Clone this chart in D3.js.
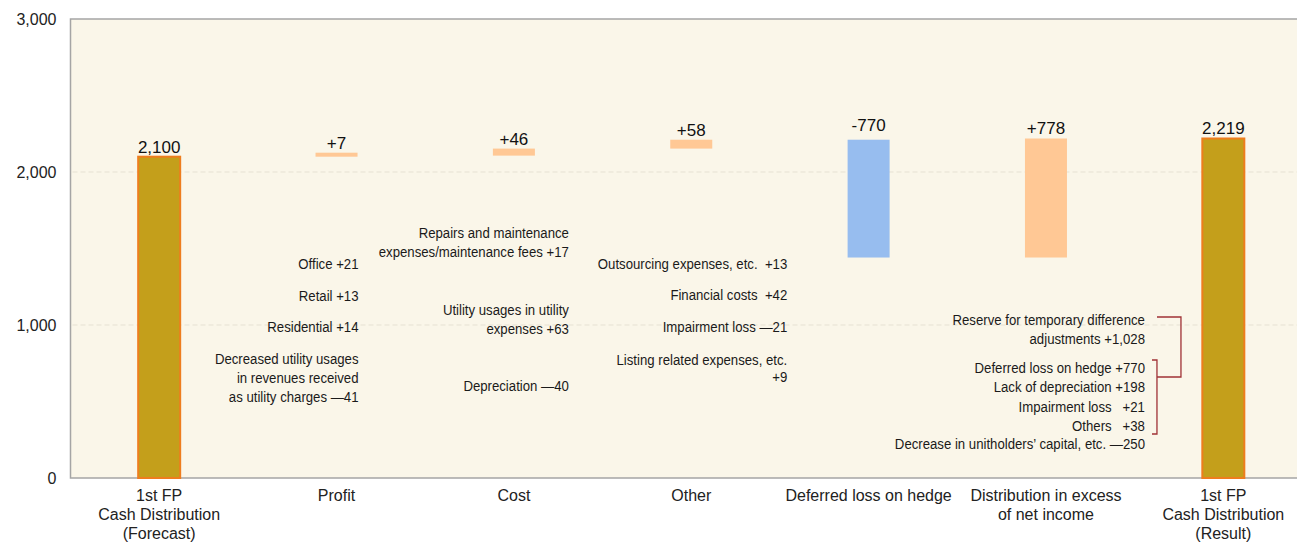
<!DOCTYPE html>
<html>
<head>
<meta charset="utf-8">
<script src="https://cdn.jsdelivr.net/npm/d3@7"></script>
<style>
  body { margin: 0; background: #fff; }
  svg { display: block; }
  text { font-family: "Liberation Sans", Arial, sans-serif; }
  .note { white-space: pre; }
</style>
</head>
<body>
<svg id="chart" width="1297" height="545"></svg>
<script>
// categories and waterfall steps
var categories = ["forecast", "profit", "cost", "other", "hedge", "excess", "result"];
var catLabels = [
  ["1st FP", "Cash Distribution", "(Forecast)"],
  ["Profit"],
  ["Cost"],
  ["Other"],
  ["Deferred loss on hedge"],
  ["Distribution in excess", "of net income"],
  ["1st FP", "Cash Distribution", "(Result)"]
];
var kinds = ["total", "delta", "delta", "delta", "delta", "delta", "total"];
var values = [2100, 7, 46, 58, -770, 778, 2219];
var valueLabels = ["2,100", "+7", "+46", "+58", "-770", "+778", "2,219"];
var yTicks = [0, 1000, 2000, 3000];

// breakdown notes under the bars
var profitNotes = [["Office +21"], ["Retail +13"], ["Residential +14"],
  ["Decreased utility usages", "in revenues received", "as utility charges \u201441"]];
var costNotes = [["Repairs and maintenance", "expenses/maintenance fees +17"],
  ["Utility usages in utility", "expenses +63"], ["Depreciation \u201440"]];
var otherNotes = [["Outsourcing expenses, etc.  +13"], ["Financial costs  +42"],
  ["Impairment loss \u201421"], ["Listing related expenses, etc.", "+9"]];
var excessNotes = [["Reserve for temporary difference", "adjustments +1,028"],
  ["Deferred loss on hedge +770"], ["Lack of depreciation +198"],
  ["Impairment loss   +21"], ["Others   +38"],
  ["Decrease in unitholders\u2019 capital, etc. \u2014250"]];

var svg = d3.select("#chart");
var W = 1297, H = 545;
var plotL = 70.5, plotT = 19, plotB = 478, plotR = 1312;

var x = d3.scalePoint().domain(categories).range([plotL, plotR]).padding(0.5);
var y = d3.scaleLinear().domain([0, 3000]).range([plotB, plotT]);
var barW = 42;

// plot background
svg.append("rect")
  .attr("x", plotL).attr("y", plotT)
  .attr("width", plotR - plotL + 20).attr("height", plotB - plotT)
  .attr("fill", "#FAF6E9")
  .attr("stroke", "#A5A5A5").attr("stroke-width", 1.5);

// grid
svg.append("g").selectAll("line")
  .data(yTicks.filter(function(d) { return d > 0 && d < 3000; }))
  .join("line")
  .attr("x1", plotL + 2).attr("x2", W)
  .attr("y1", function(d) { return y(d); }).attr("y2", function(d) { return y(d); })
  .attr("stroke", "#E6E1D3").attr("stroke-dasharray", "5,3");

// y axis labels
var yAxis = d3.axisLeft(y).tickValues(yTicks).tickSize(0).tickPadding(14)
  .tickFormat(d3.format(","));
svg.append("g").attr("transform", "translate(" + plotL + ",0)").call(yAxis)
  .call(function(g) { g.select(".domain").remove(); })
  .selectAll("text").attr("font-size", 16).attr("fill", "#222")
  .style("font-family", "'Liberation Sans', Arial, sans-serif");

// waterfall
var steps = [];
var run = 0;
values.forEach(function(v, i) {
  var lo, hi;
  if (kinds[i] === "total") { lo = 0; hi = v; run = v; }
  else { lo = Math.min(run, run + v); hi = Math.max(run, run + v); run += v; }
  steps.push({ cat: categories[i], kind: kinds[i], v: v, lo: lo, hi: hi, label: valueLabels[i] });
});

function fillOf(d) {
  if (d.kind === "total") return "#C49F1B";
  return d.v < 0 ? "#97BDEF" : "#FFC895";
}

svg.append("g").selectAll("rect")
  .data(steps)
  .join("rect")
  .attr("x", function(d) { return x(d.cat) - barW / 2; })
  .attr("width", barW)
  .attr("y", function(d) { return Math.min(y(d.hi), y(d.lo) - 4); })
  .attr("height", function(d) { return Math.max(y(d.lo) - y(d.hi), 4); })
  .attr("fill", fillOf)
  .attr("stroke", function(d) { return d.kind === "total" ? "#EE7D1E" : "none"; })
  .attr("stroke-width", 2);

svg.append("g").selectAll("text")
  .data(steps)
  .join("text")
  .attr("x", function(d) { return x(d.cat); })
  .attr("y", function(d) { return Math.min(y(d.hi), y(d.lo) - 4) - (d.v < 0 ? 9 : 4); })
  .attr("text-anchor", "middle")
  .attr("font-size", 17).attr("fill", "#111")
  .text(function(d) { return d.label; });

// category labels
var xl = svg.append("g").selectAll("text")
  .data(categories)
  .join("text")
  .attr("x", function(d) { return x(d); })
  .attr("y", 501)
  .attr("text-anchor", "middle")
  .attr("font-size", 16).attr("fill", "#222");
xl.selectAll("tspan")
  .data(function(d, i) { return catLabels[i]; })
  .join("tspan")
  .attr("x", function() { return x(d3.select(this.parentNode).datum()); })
  .attr("dy", function(d, i) { return i === 0 ? 0 : 19; })
  .text(function(d) { return d; });

// notes (squeezed horizontally to mimic the narrow type)
var noteGroups = [
  { cat: "profit", items: profitNotes, dx: 22, top: 264, lineH: 19, gaps: [13, 12, 13] },
  { cat: "cost", items: costNotes, dx: 55, top: 233, lineH: 19, gaps: [39, 38] },
  { cat: "other", items: otherNotes, dx: 96, top: 264, lineH: 17, gaps: [14, 15, 16] },
  { cat: "excess", items: excessNotes, dx: 99, top: 320, lineH: 19, gaps: [10, 0, 1, 0, -1] }
];

var excessLineY = [];
noteGroups.forEach(function(g) {
  var rows = [];
  var cy = g.top;
  g.items.forEach(function(item, k) {
    item.forEach(function(line) { rows.push({ text: line, cy: cy }); cy += g.lineH; });
    if (k < g.gaps.length) cy += g.gaps[k];
  });
  if (g.cat === "excess") excessLineY = rows.map(function(r) { return r.cy; });
  var xr = x(g.cat) + g.dx;
  svg.append("g").selectAll("text")
    .data(rows)
    .join("text")
    .attr("class", "note")
    .attr("transform", function(r) { return "translate(" + xr + "," + (r.cy + 5) + ") scale(0.88,1)"; })
    .attr("text-anchor", "end")
    .attr("font-size", 15).attr("fill", "#1a1a1a")
    .text(function(r) { return r.text; });
});

// brackets for the excess breakdown
var bx = x("excess") + 99;
var inTop = excessLineY[2] - 8, inBot = excessLineY[5] + 8;
var path = d3.path();
path.moveTo(bx + 12, excessLineY[0] - 3);
path.lineTo(bx + 36, excessLineY[0] - 3);
path.lineTo(bx + 36, excessLineY[2] + 9);
path.lineTo(bx + 12, excessLineY[2] + 9);
path.moveTo(bx + 7, inTop);
path.lineTo(bx + 12, inTop);
path.lineTo(bx + 12, inBot);
path.lineTo(bx + 7, inBot);
svg.append("path").attr("d", path.toString())
  .attr("fill", "none").attr("stroke", "#A03236").attr("stroke-width", 1.3);
</script>
</body>
</html>
